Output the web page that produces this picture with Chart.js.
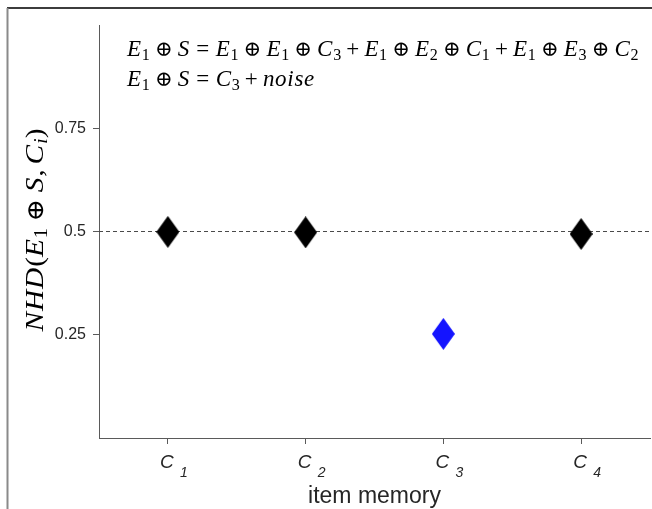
<!DOCTYPE html>
<html>
<head>
<meta charset="utf-8">
<script src="https://cdn.jsdelivr.net/npm/chart.js@4.4.1/dist/chart.umd.min.js"></script>
<style>
  html, body { margin: 0; padding: 0; background: #fff; }
  #wrap { width: 652px; height: 509px; position: relative; }
</style>
</head>
<body>
<div id="wrap"><canvas id="nhdChart" width="652" height="509"></canvas></div>
<script>
// item memory entries and their NHD to E1 (+) S
const itemLabels = ['C_1', 'C_2', 'C_3', 'C_4'];
const itemIndex = [1, 2, 3, 4];
const nhdValues = [0.499, 0.498, 0.252, 0.494];
const markerColors = ['#000000', '#000000', '#1414ff', '#000000'];
const yTickValues = [0.25, 0.5, 0.75];
const chanceLevel = 0.5;
const xLimits = [0.5, 4.5];
const yLimits = [0, 1];

const eqLines = [
    'E_1 ⊕ S = E_1 ⊕ E_1 ⊕ C_3 + E_1 ⊕ E_2 ⊕ C_1 + E_1 ⊕ E_3 ⊕ C_2',
    'E_1 ⊕ S = C_3 + noise'
];
const yTitle = 'NHD(E_1 ⊕ S, C_i)';
const xTitle = 'item memory';

// tall diamond like the matlab 'd' marker
function diamond(color) {
    const w = 23, h = 32;
    const c = document.createElement('canvas');
    c.width = w; c.height = h;
    const g = c.getContext('2d');
    g.fillStyle = color;
    g.beginPath();
    g.moveTo(w / 2, 0);
    g.lineTo(w, h / 2);
    g.lineTo(w / 2, h);
    g.lineTo(0, h / 2);
    g.closePath();
    g.fill();
    return c;
}

// very small latex-ish layout: italic letters, roman digits, subscripts, spaced operators
const SERIF = '"Liberation Serif", "DejaVu Serif", serif';
function layoutMath(ctx, str, size) {
    const items = [];
    let x = 0;
    const sub = size * 0.7;
    function put(text, font, dy, before, after) {
        x += before;
        ctx.font = font;
        items.push({ text, font, x, dy });
        x += ctx.measureText(text).width + after;
    }
    for (let i = 0; i < str.length; i++) {
        const ch = str[i];
        if (ch === ' ') continue;
        if (ch === '_') {
            const s = str[++i];
            const f = /[0-9]/.test(s) ? `${sub}px ${SERIF}` : `italic ${sub}px ${SERIF}`;
            put(s, f, size * 0.16, 0, 0);
        } else if (ch === '⊕') {
            put(ch, `${size * 0.92}px "DejaVu Serif", "DejaVu Sans"`, 0, size * 0.222, size * 0.222);
        } else if (ch === '+') {
            put(ch, `${size}px ${SERIF}`, 0, size * 0.222, size * 0.222);
        } else if (ch === '=') {
            put(ch, `${size}px ${SERIF}`, 0, size * 0.278, size * 0.278);
        } else if (ch === ',') {
            put(ch, `${size}px ${SERIF}`, 0, 0, size * 0.167);
        } else if (/[()0-9]/.test(ch)) {
            put(ch, `${size}px ${SERIF}`, 0, 0, 0);
        } else {
            put(ch, `italic ${size}px ${SERIF}`, 0, 0, size * 0.03);
        }
    }
    return { items, width: x };
}

function drawMath(ctx, str, x, y, size) {
    const lay = layoutMath(ctx, str, size);
    ctx.textAlign = 'left';
    ctx.textBaseline = 'alphabetic';
    lay.items.forEach(it => {
        ctx.font = it.font;
        ctx.fillText(it.text, x + it.x, y + it.dy);
    });
    return lay.width;
}

const decorations = {
    id: 'decorations',
    afterDraw(chart) {
        const ctx = chart.ctx;
        const area = chart.chartArea;
        const xs = chart.scales.x;
        ctx.save();

        // figure frame (top and left edge only)
        ctx.lineWidth = 2;
        ctx.strokeStyle = '#3c3c3c';
        ctx.beginPath(); ctx.moveTo(7, 8); ctx.lineTo(652, 8); ctx.stroke();
        ctx.strokeStyle = '#8a8a8a';
        ctx.beginPath(); ctx.moveTo(7.5, 8); ctx.lineTo(7.5, 509); ctx.stroke();

        // equations in the top-left of the axes
        ctx.fillStyle = '#000';
        drawMath(ctx, eqLines[0], 127, 56, 23);
        drawMath(ctx, eqLines[1], 127, 86, 23);

        // rotated y label (stretched a bit to get the width of the latex letters)
        ctx.save();
        ctx.translate(43, 230);
        ctx.rotate(-Math.PI / 2);
        ctx.scale(1.13, 1);
        const w = layoutMath(ctx, yTitle, 26).width;
        drawMath(ctx, yTitle, -w / 2, 0, 26);
        ctx.restore();

        // x tick labels C_n
        ctx.fillStyle = '#262626';
        itemLabels.forEach((lab, i) => {
            const [base, idx] = lab.split('_');
            const px = xs.getPixelForValue(itemIndex[i]);
            ctx.font = 'italic 19px "Liberation Sans", Arial, sans-serif';
            const bw = ctx.measureText(base).width;
            ctx.textAlign = 'left';
            ctx.fillText(base, px - bw / 2 - 1, 468);
            ctx.font = 'italic 14px "Liberation Sans", Arial, sans-serif';
            ctx.fillText(idx, px + 12, 477);
        });

        // x title
        ctx.font = '23px "Liberation Sans", Arial, sans-serif';
        ctx.textAlign = 'center';
        ctx.fillText(xTitle, (area.left + area.right) / 2, 503);
        ctx.restore();
    }
};

const ctx = document.getElementById('nhdChart').getContext('2d');
const nhdChart = new Chart(ctx, {
    type: 'scatter',
    data: {
        datasets: [
            {
                type: 'line',
                data: [{ x: xLimits[0], y: chanceLevel }, { x: xLimits[1], y: chanceLevel }],
                borderColor: '#4a4a4a',
                borderWidth: 1,
                borderDash: [4, 3],
                pointRadius: 0,
                fill: false,
                order: 2
            },
            {
                data: itemIndex.map((v, i) => ({ x: v, y: nhdValues[i] })),
                pointStyle: markerColors.map(c => diamond(c)),
                pointRadius: 12,
                order: 1
            }
        ]
    },
    options: {
        responsive: false,
        animation: false,
        layout: { autoPadding: false, padding: { top: 25, right: 2, left: 0, bottom: 0 } },
        plugins: { legend: { display: false }, tooltip: { enabled: false } },
        scales: {
            x: {
                type: 'linear',
                min: xLimits[0],
                max: xLimits[1],
                afterBuildTicks: s => { s.ticks = itemIndex.map(v => ({ value: v })); },
                afterFit: s => { s.height = 71; },
                ticks: { display: false },
                grid: { drawOnChartArea: false, drawTicks: true, tickLength: 6, color: '#5a5a5a' },
                border: { display: true, color: '#5a5a5a', width: 1 }
            },
            y: {
                min: yLimits[0],
                max: yLimits[1],
                afterBuildTicks: s => { s.ticks = yTickValues.map(v => ({ value: v })); },
                afterFit: s => { s.width = 99; },
                ticks: {
                    color: '#262626',
                    padding: 7,
                    font: { family: '"Liberation Sans", Arial, sans-serif', size: 16 },
                    callback: v => String(v)
                },
                grid: { drawOnChartArea: false, drawTicks: true, tickLength: 6, color: '#5a5a5a' },
                border: { display: true, color: '#5a5a5a', width: 1 }
            }
        }
    },
    plugins: [decorations]
});
</script>
</body>
</html>
